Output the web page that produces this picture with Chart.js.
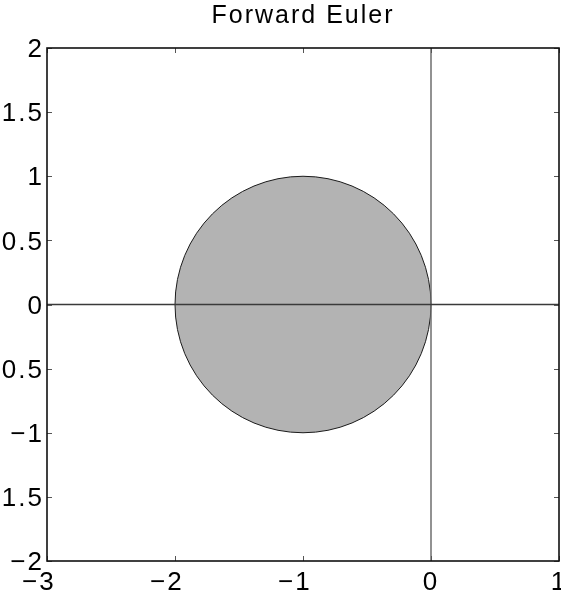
<!DOCTYPE html>
<html>
<head>
<meta charset="utf-8">
<script src="https://cdn.jsdelivr.net/npm/chart.js@4"></script>
<style>
  html, body { margin: 0; padding: 0; background: #fff; overflow: hidden; }
  canvas { display: block; }
</style>
</head>
<body>
<canvas id="chart" width="561" height="599"></canvas>
<script>
const titleText = 'Forward Euler';
const xRange = [-3, 1];
const yRange = [-2, 2];
const xTicks = [-3, -2, -1, 0, 1];
const yTicks = [-2, -1.5, -1, -0.5, 0, 0.5, 1, 1.5, 2];
// stability region: disc centred at (-1, 0), radius 1
const circleCenter = [-1, 0];
const circleRadius = 1;
// the real and imaginary axes
const zeroLines = { x: 0, y: 0 };

const FONT = 'Liberation Sans, Arial, Helvetica, sans-serif';
const fmt = v => String(v).replace('-', '\u2212');
// matlab centres the digits on the tick, the minus hangs off to the left
const fmtX = v => v < 0 ? fmt(v) + '\u2007' : fmt(v);

// matlab style axes: disc, zero lines, box and inward ticks
const matlabAxes = {
  id: 'matlabAxes',
  beforeDraw(chart) {
    chart.ctx.letterSpacing = '2px';
  },
  beforeDatasetsDraw(chart) {
    const { ctx, chartArea: a, scales: { x, y } } = chart;
    ctx.save();
    ctx.beginPath();
    ctx.rect(a.left, a.top, a.right - a.left, a.bottom - a.top);
    ctx.clip();

    const cx = x.getPixelForValue(circleCenter[0]);
    const cy = y.getPixelForValue(circleCenter[1]);
    const rx = x.getPixelForValue(circleCenter[0] + circleRadius) - cx;
    const ry = cy - y.getPixelForValue(circleCenter[1] + circleRadius);
    ctx.beginPath();
    ctx.ellipse(cx, cy, rx, ry, 0, 0, Math.PI * 2);
    ctx.fillStyle = '#b3b3b3';
    ctx.fill();
    ctx.lineWidth = 1;
    ctx.strokeStyle = '#1a1a1a';
    ctx.stroke();

    // zero lines
    const zx = x.getPixelForValue(zeroLines.x);
    const zy = y.getPixelForValue(zeroLines.y);
    ctx.beginPath();
    ctx.moveTo(zx, a.top);
    ctx.lineTo(zx, a.bottom);
    ctx.lineWidth = 1.5;
    ctx.strokeStyle = '#6e6e6e';
    ctx.stroke();
    ctx.beginPath();
    ctx.moveTo(a.left, zy);
    ctx.lineTo(a.right, zy);
    ctx.lineWidth = 1.3;
    ctx.strokeStyle = '#3a3a3a';
    ctx.stroke();
    ctx.restore();

    // inward ticks
    ctx.save();
    ctx.lineWidth = 1;
    ctx.strokeStyle = '#555';
    const tl = 5;
    ctx.beginPath();
    xTicks.forEach(v => {
      const px = Math.round(x.getPixelForValue(v)) + 0.5;
      ctx.moveTo(px, a.bottom); ctx.lineTo(px, a.bottom - tl);
      ctx.moveTo(px, a.top); ctx.lineTo(px, a.top + tl);
    });
    yTicks.forEach(v => {
      const py = Math.round(y.getPixelForValue(v)) + 0.5;
      ctx.moveTo(a.left, py); ctx.lineTo(a.left + tl, py);
      ctx.moveTo(a.right, py); ctx.lineTo(a.right - tl, py);
    });
    ctx.stroke();

    // box
    ctx.lineWidth = 1.6;
    ctx.strokeStyle = '#111';
    ctx.strokeRect(a.left, a.top, a.right - a.left, a.bottom - a.top);
    ctx.restore();
  }
};

new Chart(document.getElementById('chart'), {
  type: 'scatter',
  data: { datasets: [] },
  options: {
    responsive: false,
    animation: false,
    devicePixelRatio: 1,
    layout: { padding: { left: 0, right: 2, top: 0, bottom: 0 } },
    plugins: {
      legend: { display: false },
      tooltip: { enabled: false },
      title: {
        display: true,
        text: titleText,
        fullSize: false,
        color: '#000',
        font: { family: FONT, size: 25, weight: 'normal' },
        padding: { top: 1, bottom: 17 }
      }
    },
    scales: {
      x: {
        type: 'linear',
        min: xRange[0],
        max: xRange[1],
        afterBuildTicks: s => { s.ticks = xTicks.map(v => ({ value: v })); },
        afterFit: s => { s.height = 38; s.paddingLeft = 0; s.paddingRight = 0; },
        grid: { display: false, drawTicks: false },
        border: { display: false },
        ticks: {
          callback: fmtX,
          color: '#000',
          padding: 6,
          maxRotation: 0,
          autoSkip: false,
          font: { family: FONT, size: 26 }
        }
      },
      y: {
        type: 'linear',
        min: yRange[0],
        max: yRange[1],
        afterBuildTicks: s => { s.ticks = yTicks.map(v => ({ value: v })); },
        afterFit: s => { s.width = 47; s.paddingTop = 0; s.paddingBottom = 0; },
        grid: { display: false, drawTicks: false },
        border: { display: false },
        ticks: {
          callback: fmt,
          color: '#000',
          padding: 3,
          labelOffset: 2,
          autoSkip: false,
          font: { family: FONT, size: 26 }
        }
      }
    }
  },
  plugins: [matlabAxes]
});
</script>
</body>
</html>
